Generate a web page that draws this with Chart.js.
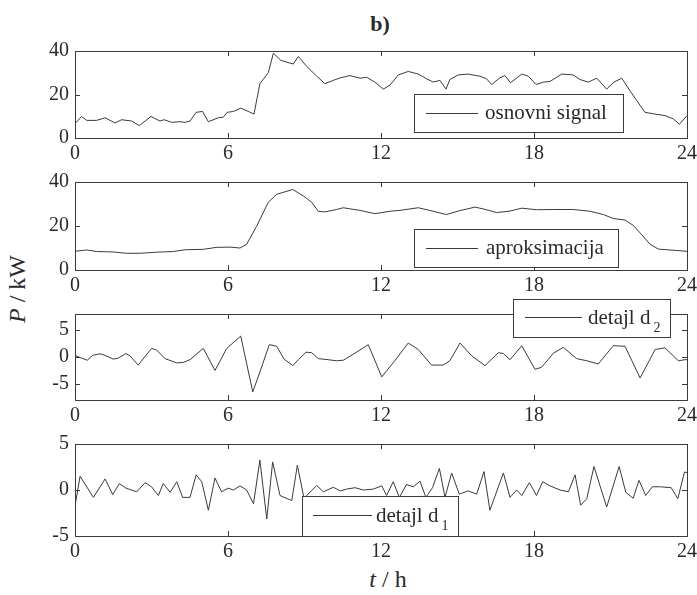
<!DOCTYPE html>
<html>
<head>
<meta charset="utf-8">
<script src="https://cdn.jsdelivr.net/npm/chart.js@4.4.0/dist/chart.umd.min.js"></script>
<style>
  body { margin: 0; background: #fff; }
  #wrap { position: relative; width: 697px; height: 595px; overflow: hidden; font-family: "Liberation Serif", serif; color: #2a2a2a; }
  canvas { position: absolute; left: 0; }
  .lbl { position: absolute; white-space: nowrap; transform: translate(-50%, -50%); }
  #title { left: 380px; top: 24px; font-weight: bold; font-size: 22px; }
  #ylab { left: 17px; top: 289px; font-size: 24px; transform: translate(-50%, -50%) rotate(-90deg); }
  #xlab { left: 388px; top: 579px; font-size: 24px; }
</style>
</head>
<body>
<div id="wrap">
  <div class="lbl" id="title">b)</div>
  <div class="lbl" id="ylab"><i>P</i> / kW</div>
  <div class="lbl" id="xlab"><i>t</i> / h</div>
</div>
<script>
// time axis (h)
const xTicks = [0, 6, 12, 18, 24];
const powerTicks = [0, 20, 40];
const detailTicks = [-5, 0, 5];

// osnovni signal
const signalT = [0, 0.26, 0.46, 0.85, 1.18, 1.57, 1.83, 2.22, 2.52, 2.98, 3.33, 3.49, 3.79, 4.12, 4.31, 4.51, 4.75, 5.0, 5.23, 5.62, 5.82, 5.97, 6.21, 6.5, 6.8, 7.02, 7.25, 7.58, 7.78, 8.07, 8.56, 8.76, 9.08, 9.48, 9.8, 10.13, 10.39, 10.78, 11.18, 11.44, 11.76, 12.09, 12.35, 12.68, 13.07, 13.46, 13.79, 14.05, 14.31, 14.55, 14.7, 15.03, 15.42, 15.88, 16.14, 16.34, 16.64, 16.86, 17.08, 17.52, 17.78, 18.08, 18.37, 18.63, 19.09, 19.54, 19.8, 20.13, 20.46, 20.85, 21.14, 21.44, 21.77, 22.35, 22.75, 23.14, 23.46, 23.7, 24];
const signalP = [6.6, 9.9, 8.1, 8.1, 9.3, 6.9, 8.4, 7.8, 5.7, 9.9, 7.8, 8.4, 7.2, 7.5, 7.2, 7.8, 11.8, 12.2, 7.5, 9.3, 9.6, 11.8, 12.2, 13.7, 12.2, 11.0, 25, 30, 39, 35.7, 34, 37.5, 33, 28.4, 25, 26.5, 27.6, 28.7, 27.5, 27.9, 25.7, 22.5, 24.3, 29, 30.6, 29.4, 27.2, 25.7, 26.5, 22.5, 26.9, 29, 29.4, 28.4, 27.2, 24.6, 27.5, 28.7, 25.4, 29.4, 28.4, 24.6, 25.7, 26, 29.4, 29, 26.9, 25.7, 27.5, 22.5, 25.7, 27.5, 21.6, 11.8, 11.0, 10.3, 8.8, 6.3, 10.3];

// aproksimacija
const approxT = [0, 0.46, 0.85, 1.5, 2.03, 2.55, 3.2, 3.86, 4.31, 5.03, 5.56, 6.08, 6.47, 6.73, 7.12, 7.58, 7.91, 8.54, 8.95, 9.28, 9.54, 9.8, 10.26, 10.52, 10.78, 11.18, 11.76, 12.35, 12.74, 13.46, 14.05, 14.57, 15.03, 15.69, 16.14, 16.53, 17.06, 17.52, 18.1, 18.76, 19.54, 20.2, 20.72, 21.11, 21.57, 21.9, 22.22, 22.55, 22.88, 23.33, 24];
const approxP = [8.5, 9.1, 8.4, 8.2, 7.6, 7.6, 8.1, 8.4, 9.2, 9.4, 10.3, 10.4, 10.0, 11.7, 19.8, 30.8, 34.4, 36.6, 33.7, 30.8, 26.7, 26.4, 27.5, 28.3, 27.8, 27.1, 25.6, 26.7, 27.1, 28.3, 26.7, 25.2, 26.8, 28.6, 27.4, 26.1, 26.8, 28.1, 27.4, 27.5, 27.5, 26.7, 25.2, 23.4, 22.7, 20.2, 16.1, 11.7, 9.5, 9.1, 8.5];

// detajl d2
const d2T = [0, 0.2, 0.48, 0.69, 0.98, 1.18, 1.5, 1.7, 2.0, 2.16, 2.48, 3.0, 3.2, 3.53, 3.99, 4.25, 4.51, 5.03, 5.49, 5.95, 6.5, 6.97, 7.25, 7.62, 7.91, 8.2, 8.54, 8.76, 9.06, 9.28, 9.54, 9.93, 10.26, 10.52, 10.91, 11.5, 12.03, 12.49, 13.07, 13.46, 13.98, 14.44, 14.7, 15.1, 15.56, 16.08, 16.6, 16.8, 17.06, 17.52, 18.04, 18.3, 18.76, 19.15, 19.67, 20.07, 20.52, 21.11, 21.57, 22.16, 22.75, 23.14, 23.66, 23.92, 24];
const d2P = [0.3, -0.1, -0.6, 0.3, 0.6, 0.3, -0.4, -0.2, 0.65, 0.2, -1.5, 1.6, 1.3, -0.3, -1.1, -1.0, -0.5, 1.6, -2.5, 1.6, 3.9, -6.5, -2.8, 2.3, 2.0, -0.4, -1.6, -0.5, 0.9, 0.8, -0.3, -0.5, -0.7, -0.6, 0.5, 2.3, -3.7, -1.0, 2.6, 1.4, -1.5, -1.5, -0.7, 2.6, 0.2, -1.6, 0.8, 0.65, -0.5, 2.1, -2.3, -1.9, 0.7, 1.8, -0.3, -0.7, -1.3, 2.1, 2.0, -3.9, 1.4, 1.7, -0.7, -0.5, -0.5];

// detajl d1
const d1T = [0, 0.2, 0.72, 1.18, 1.48, 1.74, 2.0, 2.42, 2.75, 3.0, 3.27, 3.46, 3.73, 3.99, 4.22, 4.51, 4.75, 4.97, 5.23, 5.49, 5.75, 6.01, 6.21, 6.47, 6.73, 7.0, 7.25, 7.52, 7.75, 8.04, 8.5, 8.72, 8.98, 9.48, 9.74, 10.13, 10.4, 10.65, 10.98, 11.31, 11.7, 12.03, 12.22, 12.48, 12.72, 13.0, 13.27, 13.53, 13.76, 14.02, 14.29, 14.51, 14.77, 15.07, 15.42, 15.75, 16.04, 16.27, 16.8, 17.06, 17.32, 17.52, 17.82, 18.1, 18.34, 18.63, 19.02, 19.35, 19.61, 19.83, 20.07, 20.35, 20.85, 21.34, 21.6, 21.89, 22.12, 22.38, 22.64, 22.93, 23.38, 23.64, 23.9, 24];
const d1P = [-1.75, 1.5, -0.8, 1.2, -0.5, 0.7, 0.2, -0.2, 0.8, 0.35, -0.6, 0.7, -0.25, 0.9, -0.8, -0.8, 1.65, 0.9, -2.2, 1.3, -0.2, 0.2, 0, 0.45, 0, -1.5, 3.25, -3.15, 3.05, -0.6, -1.15, 2.7, -0.9, 0.5, -0.2, 0.3, -0.1, 0.1, 0.25, 0, 0.1, 0.45, -0.6, 0.9, -0.8, 0.6, 0.35, 0.95, -0.8, 0.25, 2.35, -0.8, 1.85, -0.45, -0.1, -0.45, 2.0, -2.2, 1.85, -0.8, 0, -0.6, 0.8, -0.6, 0.9, 0.45, 0, -0.2, 1.65, -1.65, -0.95, 2.55, -1.85, 2.55, -0.25, -0.9, 1.05, -0.6, 0.35, 0.35, 0.25, -0.95, 1.95, 1.9];

const lineColor = "#3a3a3a";
const textColor = "#2a2a2a";
const fontFamily = "'Liberation Serif', serif";
const fontSize = 20;

const panels = [
  { t: signalT, p: signalP, min: 0, max: 40, yTicks: powerTicks, top: 48, bottom: 138,
    legend: { box: [414, 94, 623, 132], line: [426, 478, 113], tx: 485, text: "osnovni signal", sub: "" } },
  { t: approxT, p: approxP, min: 0, max: 40, yTicks: powerTicks, top: 179, bottom: 270,
    legend: { box: [414, 229, 618, 267], line: [426, 478, 248], tx: 486, text: "aproksimacija", sub: "" } },
  { t: d2T, p: d2P, min: -8, max: 8, yTicks: detailTicks, top: 311, bottom: 400,
    legend: { box: [513, 299, 670, 337], line: [525, 582, 317], tx: 588, text: "detajl d", sub: "2" } },
  { t: d1T, p: d1P, min: -5, max: 5, yTicks: detailTicks, top: 441, bottom: 536,
    legend: { box: [302, 496, 458, 536], line: [313, 372, 515], tx: 376, text: "detajl d", sub: "1" } }
];

const padTop = 15;
const axisH = 30;

const framePlugin = {
  id: "frame",
  afterDatasetsDraw(chart, args, opts) {
    const { ctx, chartArea: a, scales } = chart;
    const off = opts.offset;
    ctx.save();
    ctx.strokeStyle = lineColor;
    ctx.lineWidth = 1;
    ctx.strokeRect(Math.round(a.left) + 0.5, Math.round(a.top) + 0.5, Math.round(a.right - a.left), Math.round(a.bottom - a.top));
    ctx.beginPath();
    scales.x.ticks.forEach(tk => {
      const x = Math.round(scales.x.getPixelForValue(tk.value)) + 0.5;
      ctx.moveTo(x, a.top); ctx.lineTo(x, a.top + 5);
      ctx.moveTo(x, a.bottom); ctx.lineTo(x, a.bottom - 5);
    });
    scales.y.ticks.forEach(tk => {
      const y = Math.round(scales.y.getPixelForValue(tk.value)) + 0.5;
      ctx.moveTo(a.left, y); ctx.lineTo(a.left + 5, y);
      ctx.moveTo(a.right, y); ctx.lineTo(a.right - 5, y);
    });
    ctx.stroke();

    // legend box
    const lg = opts.legend;
    const b = lg.box;
    ctx.fillStyle = "#fff";
    ctx.fillRect(b[0], b[1] - off, b[2] - b[0], b[3] - b[1]);
    ctx.strokeRect(b[0] + 0.5, b[1] - off + 0.5, b[2] - b[0], b[3] - b[1]);
    ctx.beginPath();
    ctx.moveTo(lg.line[0], lg.line[2] - off + 0.5);
    ctx.lineTo(lg.line[1], lg.line[2] - off + 0.5);
    ctx.stroke();
    ctx.fillStyle = textColor;
    ctx.font = "21px " + fontFamily;
    ctx.textBaseline = "middle";
    ctx.textAlign = "left";
    const ty = (b[1] + b[3]) / 2 - off;
    ctx.fillText(lg.text, lg.tx, ty);
    if (lg.sub) {
      const w = ctx.measureText(lg.text).width;
      ctx.font = "14px " + fontFamily;
      ctx.fillText(lg.sub, lg.tx + w + 3, ty + 10);
    }
    ctx.restore();
  }
};

const wrap = document.getElementById("wrap");

panels.forEach(pn => {
  const canvas = document.createElement("canvas");
  const offset = pn.top - padTop;
  const h = pn.bottom - pn.top + padTop + axisH;
  canvas.width = 720;
  canvas.height = h;
  canvas.style.top = offset + "px";
  canvas.style.width = "720px";
  canvas.style.height = h + "px";
  wrap.appendChild(canvas);

  new Chart(canvas.getContext("2d"), {
    type: "line",
    data: {
      datasets: [{
        data: pn.t.map((x, i) => ({ x: x, y: pn.p[i] })),
        borderColor: lineColor,
        borderWidth: 1,
        pointRadius: 0,
        tension: 0,
        fill: false
      }]
    },
    options: {
      responsive: false,
      animation: false,
      layout: { padding: { top: padTop, right: 33, left: 0, bottom: 0 } },
      plugins: {
        legend: { display: false },
        tooltip: { enabled: false },
        frame: { offset: offset, legend: pn.legend }
      },
      scales: {
        x: {
          type: "linear",
          min: 0,
          max: 24,
          afterBuildTicks: s => { s.ticks = xTicks.map(v => ({ value: v })); },
          afterFit: s => { s.height = axisH; },
          grid: { display: false, drawTicks: false },
          border: { display: false },
          ticks: { color: textColor, font: { family: fontFamily, size: fontSize }, padding: 4, maxRotation: 0 }
        },
        y: {
          min: pn.min,
          max: pn.max,
          afterBuildTicks: s => { s.ticks = pn.yTicks.map(v => ({ value: v })); },
          afterFit: s => { s.width = 75; },
          grid: { display: false, drawTicks: false },
          border: { display: false },
          ticks: { color: textColor, font: { family: fontFamily, size: fontSize }, padding: 6 }
        }
      }
    },
    plugins: [framePlugin]
  });
});
</script>
</body>
</html>
